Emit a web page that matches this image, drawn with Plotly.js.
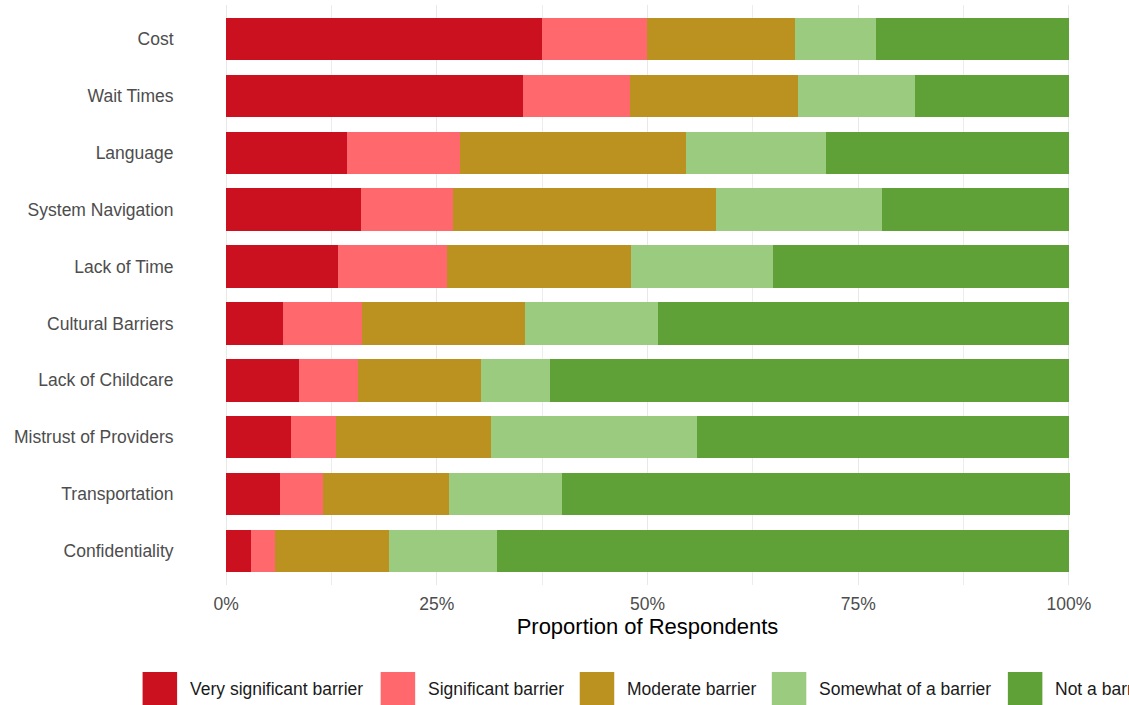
<!DOCTYPE html>
<html>
<head>
<meta charset="utf-8">
<script src="https://cdn.plot.ly/plotly-3.0.1.min.js"></script>
<style>html,body{margin:0;padding:0;background:#fff;} #chart{width:1129px;height:705px;}</style>
</head>
<body>
<div id="chart"></div>
<script>
// ---- data ----
const categories = ["Cost","Wait Times","Language","System Navigation","Lack of Time","Cultural Barriers","Lack of Childcare","Mistrust of Providers","Transportation","Confidentiality"];
const seriesNames = ["Very significant barrier","Significant barrier","Moderate barrier","Somewhat of a barrier","Not a barrier"];
const verySignificant = [0.375,0.352,0.143,0.160,0.133,0.068,0.086,0.077,0.064,0.029];
const significant     = [0.124,0.127,0.135,0.109,0.129,0.093,0.070,0.053,0.051,0.029];
const moderate        = [0.176,0.199,0.268,0.312,0.218,0.194,0.146,0.184,0.150,0.135];
const somewhat        = [0.096,0.139,0.166,0.197,0.169,0.157,0.082,0.245,0.134,0.129];
const notBarrier      = [0.229,0.183,0.288,0.222,0.351,0.488,0.616,0.441,0.602,0.678];
const xTickVals = [0,0.25,0.5,0.75,1];
const xTickText = ["0%","25%","50%","75%","100%"];

// ---- styles ----
const colors = ["#CB1020","#FF696E","#BB9120","#9BCB7E","#5FA137"];
const series = [verySignificant, significant, moderate, somewhat, notBarrier];

const traces = series.map((vals, i) => ({
  type: "bar",
  orientation: "h",
  name: seriesNames[i],
  x: vals,
  y: categories,
  marker: {color: colors[i], line: {width: 0}},
  showlegend: false,
  hoverinfo: "x+y+name"
}));

const W = 1129, H = 705;
const m = {l: 184.4, r: W - 1111.1, t: 4.6, b: H - 585};
const pw = W - m.l - m.r, ph = H - m.t - m.b;
const px2x = p => (p - m.l) / pw;
const px2y = p => (H - m.b - p) / ph;
const FONT = "Liberation Sans, Arial, Helvetica, sans-serif";

// custom legend (ggplot-like large keys)
const keyLefts = [143, 381, 580, 772, 1008];
const keySize = 34.5, keyTop = 672;
const shapes = [], annotations = [];
seriesNames.forEach((nm, i) => {
  shapes.push({type: "rect", xref: "paper", yref: "paper",
    x0: px2x(keyLefts[i]), x1: px2x(keyLefts[i] + keySize),
    y0: px2y(keyTop + keySize), y1: px2y(keyTop),
    fillcolor: colors[i], line: {width: 0}});
  annotations.push({xref: "paper", yref: "paper", x: px2x(keyLefts[i] + keySize + 11),
    y: px2y(keyTop + keySize / 2), xanchor: "left", yanchor: "middle", showarrow: false,
    text: nm, font: {family: FONT, size: 17.5, color: "#1a1a1a"}});
});

const layout = {
  width: W, height: H,
  margin: {l: m.l, r: m.r, t: m.t, b: m.b, pad: 0, autoexpand: false},
  paper_bgcolor: "#fff", plot_bgcolor: "#fff",
  barmode: "stack", bargap: 0.25,
  font: {family: FONT, size: 17.5, color: "#4D4D4D"},
  xaxis: {
    range: [-0.05, 1.05], tickvals: xTickVals, ticktext: xTickText,
    showgrid: true, gridcolor: "#E8E8E8", gridwidth: 1.2,
    minor: {dtick: 0.125, tick0: 0, showgrid: true, gridcolor: "#EDEDED", gridwidth: 1},
    zeroline: false, showline: false,
    ticks: "outside", ticklen: 3, tickcolor: "rgba(0,0,0,0)",
    tickfont: {size: 17.5, color: "#4D4D4D"},
    title: {text: "Proportion of Respondents", font: {size: 22, color: "#000"}, standoff: 3}
  },
  yaxis: {
    type: "category", range: [categories.length - 0.4, -0.6],
    showgrid: false, zeroline: false, showline: false,
    ticks: "outside", ticklen: 6, tickcolor: "rgba(0,0,0,0)",
    tickfont: {size: 17.5, color: "#4D4D4D"}
  },
  shapes: shapes, annotations: annotations,
  showlegend: false
};

Plotly.newPlot("chart", traces, layout, {displayModeBar: false, staticPlot: true});
</script>
</body>
</html>
